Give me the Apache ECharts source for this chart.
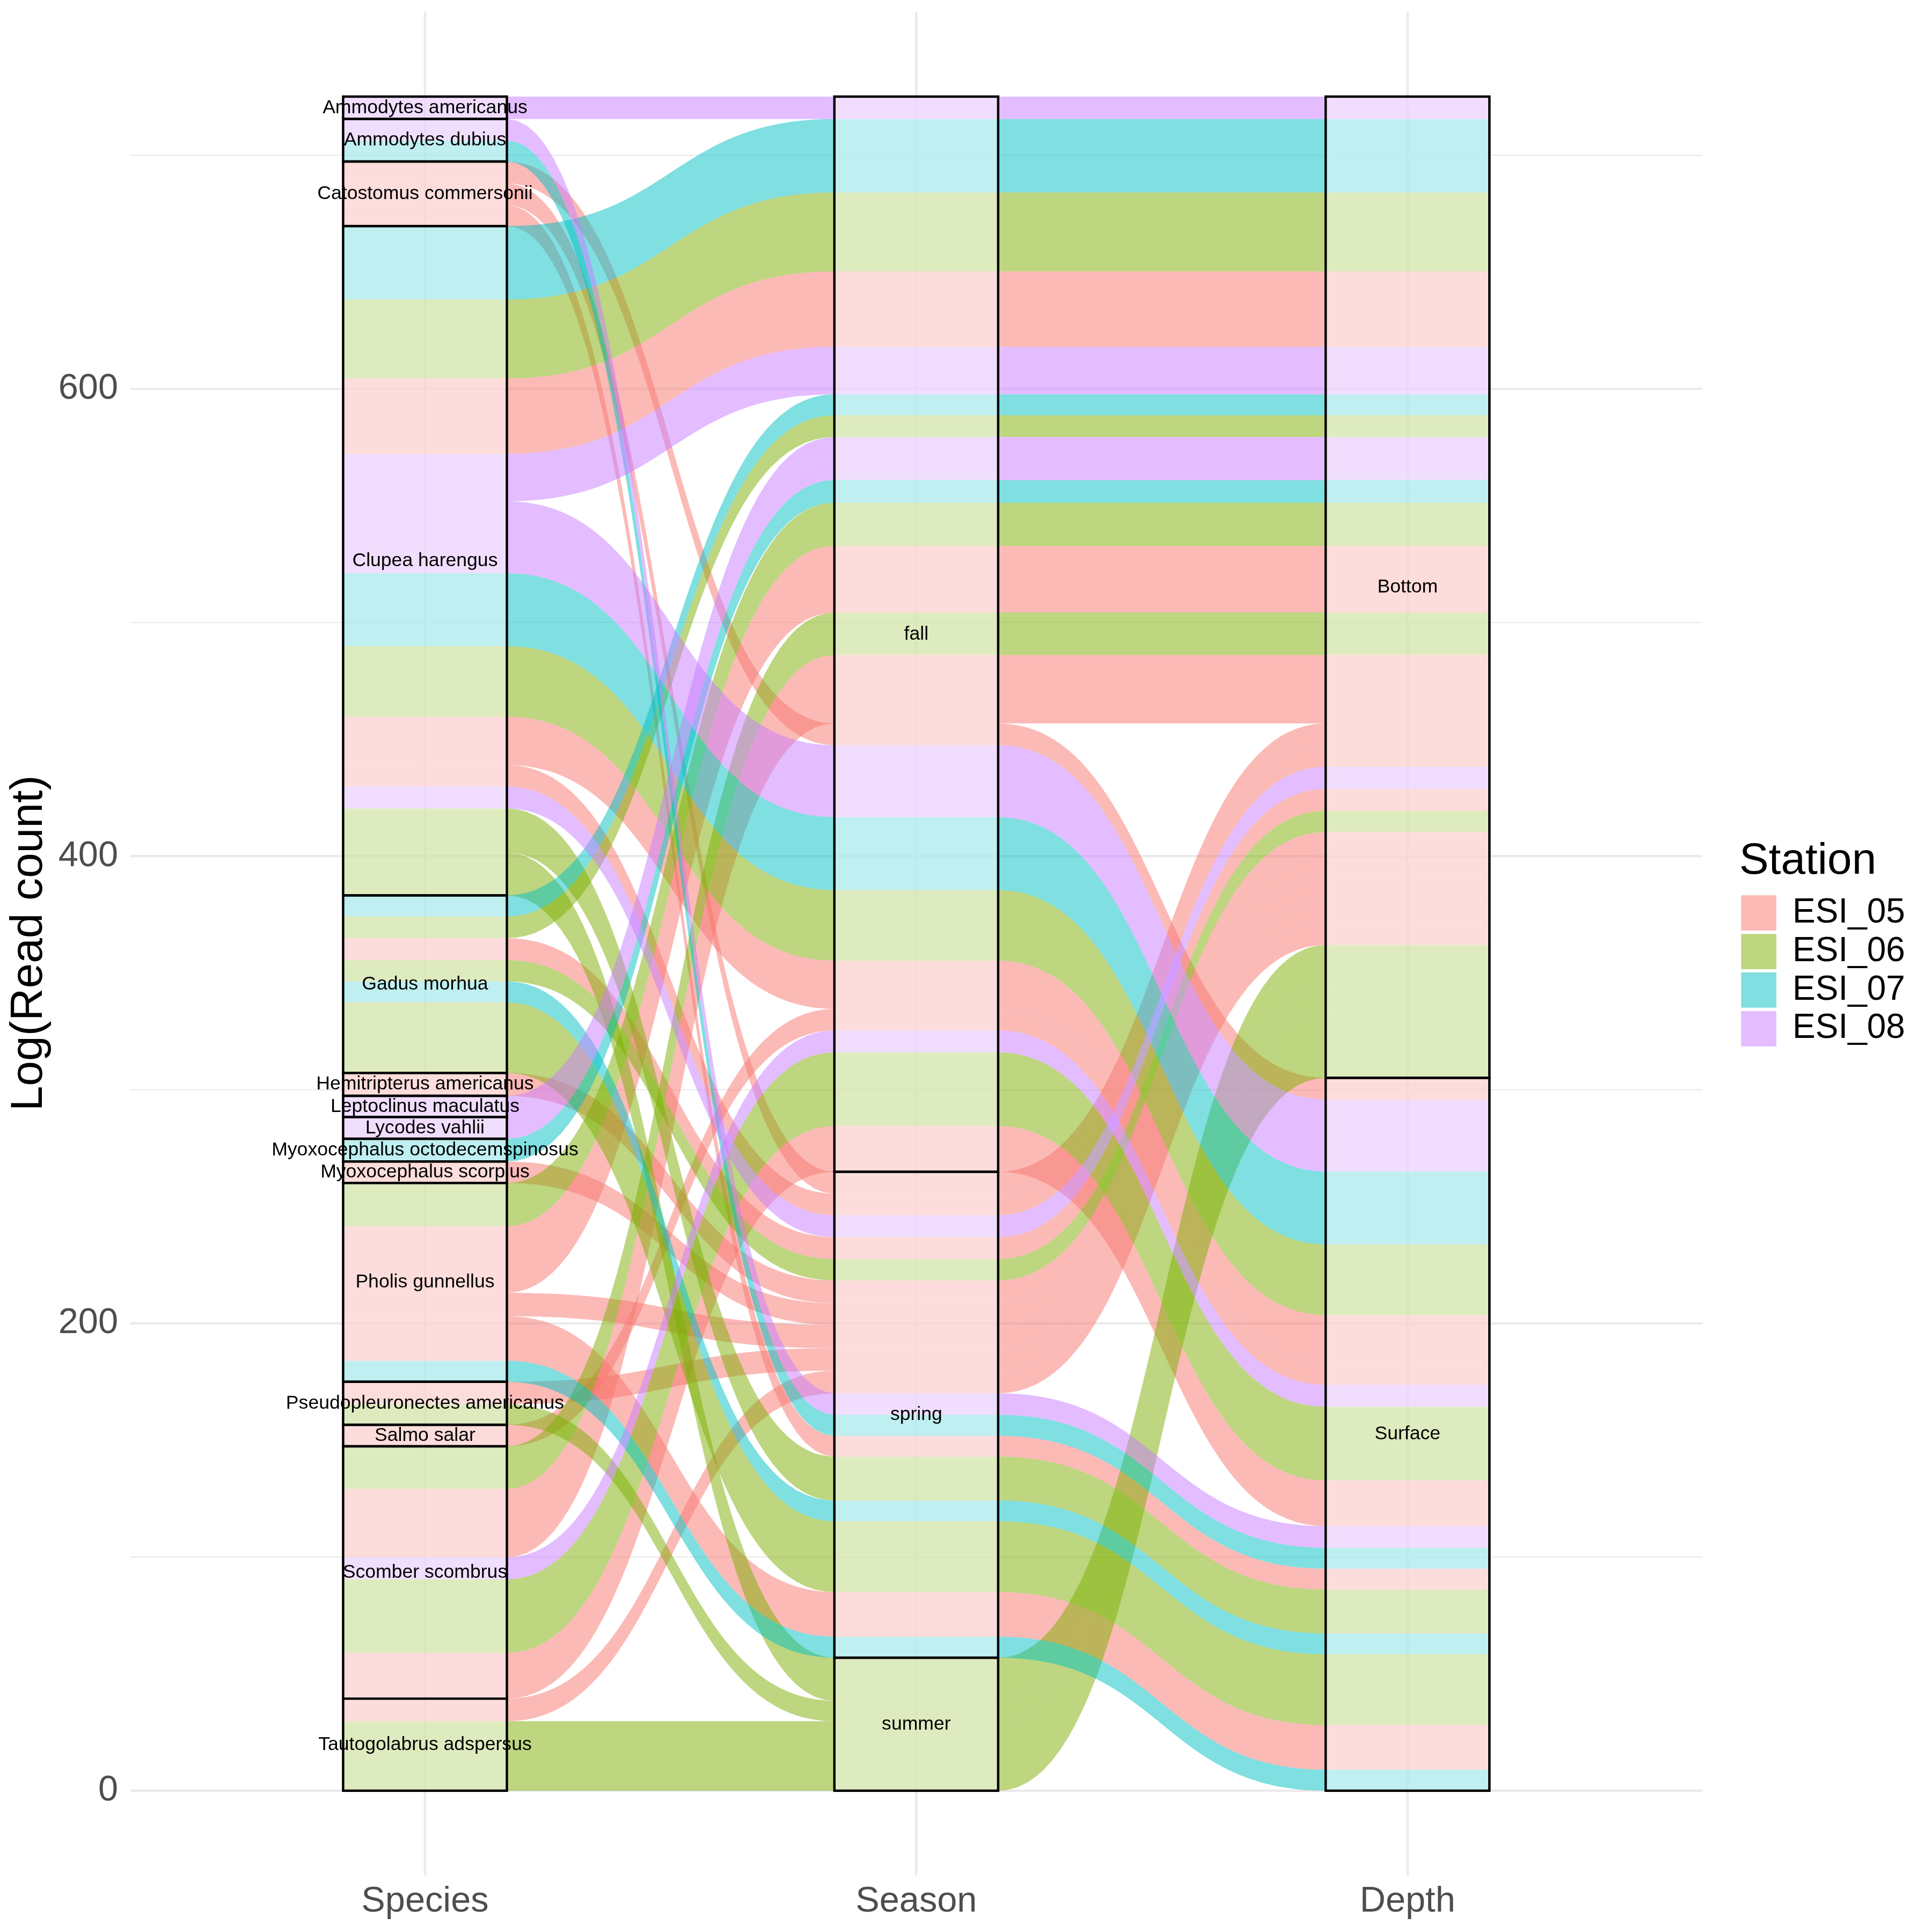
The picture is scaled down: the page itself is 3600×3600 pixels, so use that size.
<!DOCTYPE html>
<html><head><meta charset="utf-8">
<script src="https://cdn.jsdelivr.net/npm/echarts@6/dist/echarts.min.js"></script>
<style>html,body{margin:0;padding:0;background:#fff}#c{width:3600px;height:3600px}</style>
</head><body><div id="c"></div>
<script>
const axisNames = ['Species', 'Season', 'Depth'];
const species = ['Ammodytes americanus','Ammodytes dubius','Catostomus commersonii','Clupea harengus','Gadus morhua','Hemitripterus americanus','Leptoclinus maculatus','Lycodes vahlii','Myoxocephalus octodecemspinosus','Myoxocephalus scorpius','Pholis gunnellus','Pseudopleuronectes americanus','Salmo salar','Scomber scombrus','Tautogolabrus adspersus'];
const seasons = ['fall', 'spring', 'summer'];
const depths = ['Bottom', 'Surface'];
const stations = ['ESI_05', 'ESI_06', 'ESI_07', 'ESI_08'];
const stationColors = ['#F8766D', '#7CAE00', '#00BFC4', '#C77CFF'];
const yMajorTicks = [0, 200, 400, 600];
const yMinorTicks = [100, 300, 500, 700];
const legendTitle = 'Station';
const yTitle = 'Log(Read count)';

// one entry per alluvium (row order breaks ties inside a stratum)
const flowSpecies = [
 'Ammodytes americanus','Clupea harengus','Clupea harengus','Clupea harengus','Clupea harengus','Gadus morhua','Gadus morhua','Leptoclinus maculatus','Lycodes vahlii','Myoxocephalus octodecemspinosus','Pholis gunnellus','Pholis gunnellus','Scomber scombrus','Scomber scombrus',
 'Catostomus commersonii','Clupea harengus','Clupea harengus','Clupea harengus','Clupea harengus','Salmo salar','Scomber scombrus','Scomber scombrus','Scomber scombrus',
 'Catostomus commersonii','Clupea harengus','Clupea harengus','Gadus morhua','Gadus morhua','Hemitripterus americanus','Myoxocephalus scorpius','Pholis gunnellus','Pseudopleuronectes americanus','Tautogolabrus adspersus',
 'Ammodytes dubius','Ammodytes dubius','Catostomus commersonii','Clupea harengus','Gadus morhua','Gadus morhua','Pholis gunnellus','Pholis gunnellus',
 'Clupea harengus','Pseudopleuronectes americanus','Tautogolabrus adspersus'];
const flowSeason = [
 'fall','fall','fall','fall','fall','fall','fall','fall','fall','fall','fall','fall','fall','fall',
 'fall','fall','fall','fall','fall','fall','fall','fall','fall',
 'spring','spring','spring','spring','spring','spring','spring','spring','spring','spring',
 'spring','spring','spring','spring','spring','spring','spring','spring',
 'summer','summer','summer'];
const flowDepth = [
 'Bottom','Bottom','Bottom','Bottom','Bottom','Bottom','Bottom','Bottom','Bottom','Bottom','Bottom','Bottom','Bottom','Bottom',
 'Surface','Surface','Surface','Surface','Surface','Surface','Surface','Surface','Surface',
 'Bottom','Bottom','Bottom','Bottom','Bottom','Bottom','Bottom','Bottom','Bottom','Bottom',
 'Surface','Surface','Surface','Surface','Surface','Surface','Surface','Surface',
 'Bottom','Bottom','Bottom'];
const flowStation = [
 'ESI_08','ESI_07','ESI_06','ESI_05','ESI_08','ESI_07','ESI_06','ESI_08','ESI_08','ESI_07','ESI_06','ESI_05','ESI_06','ESI_05',
 'ESI_05','ESI_08','ESI_07','ESI_06','ESI_05','ESI_05','ESI_08','ESI_06','ESI_05',
 'ESI_05','ESI_05','ESI_08','ESI_05','ESI_06','ESI_05','ESI_05','ESI_05','ESI_05','ESI_05',
 'ESI_08','ESI_07','ESI_05','ESI_06','ESI_07','ESI_06','ESI_05','ESI_07',
 'ESI_06','ESI_06','ESI_06'];
const flowValue = [
 9.6, 31.4, 33.8, 32.3, 20.3, 9.0, 9.3, 9.1, 9.3, 9.7, 18.5, 28.5, 18.2, 29.3,
 9.3, 30.8, 31.2, 30.2, 20.7, 9.2, 9.4, 31.5, 19.6,
 9.4, 9.2, 9.4, 9.4, 9.1, 9.8, 9.2, 10.0, 9.6, 9.7,
 9.2, 9.0, 8.9, 18.8, 8.9, 30.3, 19.1, 9.0,
 18.4, 8.8, 29.7];

// ---------- layout computed from data (ggalluvial-like lode ordering) ----------
const FONT = '"Liberation Sans", Arial, sans-serif';
const W = 1 / 3;
const n = flowValue.length;
const total = flowValue.reduce((a, b) => a + b, 0);
const yMin = -0.05 * total, yMax = total * 1.05;
const axisCats = [species, seasons, depths];
const catIdx = [
  flowSpecies.map(s => species.indexOf(s)),
  flowSeason.map(s => seasons.indexOf(s)),
  flowDepth.map(s => depths.indexOf(s))
];
const keyOrder = [[0, 1, 2], [1, 2, 0], [2, 1, 0]];
const lodeTop = [[], [], []], lodeBot = [[], [], []];
const strata = [];
for (let a = 0; a < 3; a++) {
  const order = [...Array(n).keys()].sort((i, j) => {
    for (const k of keyOrder[a]) { const d = catIdx[k][i] - catIdx[k][j]; if (d) return d; }
    return i - j;
  });
  let cum = total;
  order.forEach(i => { lodeTop[a][i] = cum; cum -= flowValue[i]; lodeBot[a][i] = cum; });
  axisCats[a].forEach((name, ci) => {
    const m = order.filter(i => catIdx[a][i] === ci);
    if (!m.length) return;
    strata.push({ axis: a, name: name,
      top: Math.max(...m.map(i => lodeTop[a][i])),
      bot: Math.min(...m.map(i => lodeBot[a][i])) });
  });
}
function rgba(hex, al) {
  const r = parseInt(hex.slice(1, 3), 16), g = parseInt(hex.slice(3, 5), 16), b = parseInt(hex.slice(5, 7), 16);
  return 'rgba(' + r + ',' + g + ',' + b + ',' + al + ')';
}
function bez(xs, ys, xe, ye, pts) {
  const m = (xs + xe) / 2, N = 48;
  for (let k = 1; k < N; k++) {
    const t = k / N, u = 1 - t;
    const x = u * u * u * xs + 3 * u * u * t * m + 3 * u * t * t * m + t * t * t * xe;
    const wy = 3 * u * t * t + t * t * t;
    pts.push([x, (1 - wy) * ys + wy * ye]);
  }
}
function flowPolygon(i) {
  const pts = [];
  for (let a = 0; a < 3; a++) {
    const x = a + 1, y = lodeTop[a][i];
    pts.push([x - W / 2, y]); pts.push([x + W / 2, y]);
    if (a < 2) bez(x + W / 2, y, x + 1 - W / 2, lodeTop[a + 1][i], pts);
  }
  for (let a = 2; a >= 0; a--) {
    const x = a + 1, y = lodeBot[a][i];
    pts.push([x + W / 2, y]); pts.push([x - W / 2, y]);
    if (a > 0) bez(x - W / 2, y, x - 1 + W / 2, lodeBot[a - 1][i], pts);
  }
  return pts;
}

const series = [];
// grid lines
series.push({
  type: 'custom', name: 'hgrid', silent: true, z: 1, animation: false,
  data: yMajorTicks.map(v => [v, 1]).concat(yMinorTicks.map(v => [v, 0])),
  renderItem: (p, api) => {
    const v = api.value(0), major = api.value(1);
    const a = api.coord([0.4, v]), b = api.coord([3.6, v]);
    return { type: 'line', shape: { x1: a[0], y1: a[1], x2: b[0], y2: b[1] },
      style: { stroke: '#EBEBEB', lineWidth: major ? 4.45 : 2.2 } };
  }
});
series.push({
  type: 'custom', name: 'vgrid', silent: true, z: 1, animation: false,
  data: axisNames.map((s, i) => [i + 1]),
  renderItem: (p, api) => {
    const x = api.value(0);
    const a = api.coord([x, yMin]), b = api.coord([x, yMax]);
    return { type: 'line', shape: { x1: a[0], y1: a[1], x2: b[0], y2: b[1] },
      style: { stroke: '#EBEBEB', lineWidth: 4.45 } };
  }
});
// alluvia, one series per station
stations.forEach((st, si) => {
  const col = rgba(stationColors[si], 0.5);
  series.push({
    type: 'custom', name: st, z: 2, silent: true, animation: false,
    itemStyle: { color: col },
    data: [...Array(n).keys()].filter(i => flowStation[i] === st).map(i => [i, 0]),
    renderItem: (p, api) => {
      const i = api.value(0);
      return { type: 'polygon', shape: { points: flowPolygon(i).map(q => api.coord(q)) },
        style: { fill: col, stroke: null } };
    }
  });
});
// strata boxes
series.push({
  type: 'custom', name: 'strata', z: 3, silent: true, animation: false,
  data: strata.map((s, k) => [k, 0]),
  renderItem: (p, api) => {
    const s = strata[api.value(0)], x = s.axis + 1;
    const a = api.coord([x - W / 2, s.top]), b = api.coord([x + W / 2, s.bot]);
    return { type: 'rect', shape: { x: a[0], y: a[1], width: b[0] - a[0], height: b[1] - a[1] },
      style: { fill: 'rgba(255,255,255,0.5)', stroke: '#000', lineWidth: 4.45 } };
  }
});
// stratum labels
series.push({
  type: 'custom', name: 'labels', z: 4, silent: true, animation: false,
  data: strata.map((s, k) => [k, 0]),
  renderItem: (p, api) => {
    const s = strata[api.value(0)];
    const c = api.coord([s.axis + 1, (s.top + s.bot) / 2]);
    return { type: 'text', x: c[0], y: c[1],
      style: { text: s.name, fontSize: 35.6, fontFamily: FONT, fill: '#000', align: 'center', verticalAlign: 'middle' } };
  }
});

// legend drawn as graphic elements (key squares + labels + title)
const LEG_X = 3244.3, LEG_Y = 1668.3, KEY = 65.7, STEP = 71.9;
const graphics = [
  { type: 'text', x: 55, y: 1757.5, rotation: Math.PI / 2, silent: true,
    style: { text: yTitle, fontSize: 84, fontFamily: FONT, fill: '#000', align: 'center', verticalAlign: 'middle' } },
  { type: 'text', x: 3241, y: 1605, silent: true,
    style: { text: legendTitle, fontSize: 82, fontFamily: FONT, fill: '#000', align: 'left', verticalAlign: 'middle' } }
];
stations.forEach((st, i) => {
  graphics.push({ type: 'rect', silent: true, shape: { x: LEG_X, y: LEG_Y + i * STEP, width: KEY, height: KEY },
    style: { fill: rgba(stationColors[i], 0.5) } });
  graphics.push({ type: 'text', silent: true, x: 3340, y: LEG_Y + i * STEP + KEY / 2,
    style: { text: st, fontSize: 64, fontFamily: FONT, fill: '#000', align: 'left', verticalAlign: 'middle' } });
});

const chart = echarts.init(document.getElementById('c'), null, { renderer: 'canvas' });
chart.setOption({
  backgroundColor: '#fff',
  animation: false,
  grid: { left: 242.7, right: 428, top: 22.2, bottom: 105.5 },
  xAxis: {
    type: 'value', min: 0.4, max: 3.6,
    axisLine: { show: false }, axisTick: { show: false }, splitLine: { show: false },
    axisLabel: { customValues: [1, 2, 3], formatter: v => axisNames[Math.round(v) - 1],
      fontSize: 66.7, color: '#4D4D4D', fontFamily: FONT, margin: 16 }
  },
  yAxis: {
    type: 'value', min: yMin, max: yMax,
    axisLine: { show: false }, axisTick: { show: false }, splitLine: { show: false },
    axisLabel: { customValues: yMajorTicks, fontSize: 66.7, color: '#4D4D4D', fontFamily: FONT, margin: 22.7 }
  },
  graphic: graphics,
  series: series
});
</script></body></html>
